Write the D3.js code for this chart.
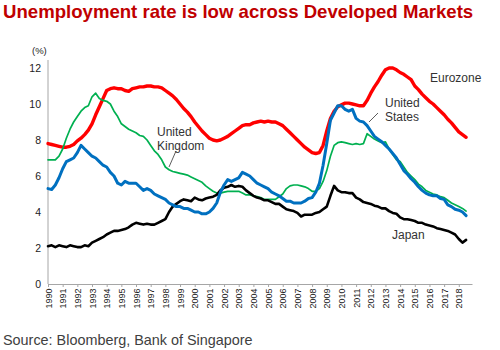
<!DOCTYPE html>
<html>
<head>
<meta charset="utf-8">
<script src="https://cdn.jsdelivr.net/npm/d3@7"></script>
<style>
  body { margin: 0; background: #fff; }
  svg { display: block; font-family: "Liberation Sans", Arial, sans-serif; }
  .axis path, .axis line { stroke: #a6a6a6; }
  .axis text { fill: #222; }
  .series { fill: none; stroke-linejoin: round; stroke-linecap: round; }
  .note { font-size: 12px; fill: #333; }
</style>
</head>
<body>
<div id="chart"></div>
<script>
// quarterly readings, first point 1990 Q1
const startYear = 1990;
const yearTicks = d3.range(1990, 2019);
const yTicks = [0, 2, 4, 6, 8, 10, 12];

const eurozone = [
  7.8, 7.75, 7.7, 7.65,   7.6, 7.6, 7.65, 7.75,   7.95, 8.1, 8.3, 8.55,
  8.9, 9.4, 9.85, 10.3,   10.75, 10.85, 10.9, 10.85,   10.85, 10.75, 10.7, 10.85,
  10.9, 10.95, 10.95, 11.0,   11.0, 10.95, 10.95, 10.9,   10.75, 10.6, 10.45, 10.25,
  10.0, 9.75, 9.55, 9.3,   9.0, 8.75, 8.5, 8.3,   8.1, 8.0, 7.95, 8.0,
  8.1, 8.2, 8.35, 8.5,   8.65, 8.8, 8.85, 8.85,   8.95, 9.0, 9.05, 9.0,
  9.05, 9.0, 9.0, 8.9,   8.8, 8.6, 8.4, 8.2,   8.0, 7.8, 7.6, 7.45,
  7.3, 7.25, 7.3, 7.7,   8.5, 9.2, 9.6, 9.85,   9.95, 10.05, 10.05, 10.0,
  9.95, 9.9, 9.9, 10.2,   10.6, 10.95, 11.25, 11.6,   11.9, 12.0, 12.0, 11.9,
  11.75, 11.65, 11.5, 11.35,   11.0, 10.8, 10.55, 10.35,   10.15, 10.0, 9.8, 9.6,
  9.4, 9.15, 8.95, 8.7,   8.45, 8.3, 8.15
];

const unitedStates = [
  5.3, 5.25, 5.5, 5.9,   6.4, 6.8, 6.9, 7.0,   7.3, 7.7, 7.5, 7.3,
  7.1, 7.0, 6.8, 6.6,   6.5, 6.2, 6.0, 5.6,   5.5, 5.7, 5.6, 5.6,
  5.6, 5.4, 5.2, 5.3,   5.2, 5.0, 4.9, 4.8,   4.7, 4.5, 4.4, 4.3,
  4.3, 4.2, 4.2, 4.1,   4.0, 4.0, 3.9, 3.9,   4.0, 4.2, 4.5, 5.1,
  5.5, 5.8, 5.7, 5.8,   5.9, 6.2, 6.1, 6.0,   5.8, 5.6, 5.5, 5.4,
  5.3, 5.1, 5.0, 4.9,   4.75, 4.6, 4.6, 4.5,   4.5, 4.5, 4.6, 4.75,
  4.8, 5.1, 5.6, 6.6,   7.8, 9.1, 9.5, 9.9,   9.9, 9.7, 9.6, 9.7,
  9.2, 9.05, 9.0, 8.8,   8.5, 8.2, 8.05, 7.9,   7.7, 7.5, 7.25, 7.0,
  6.65, 6.3, 6.1, 5.85,   5.65, 5.4, 5.2, 5.05,   4.95, 4.9, 4.9, 4.75,
  4.7, 4.4, 4.3, 4.15,   4.1, 4.0, 3.8
];

const unitedKingdom = [
  6.9, 6.9, 6.9, 7.1,   7.5, 8.1, 8.6, 9.0,   9.3, 9.6, 9.8, 9.9,
  10.4, 10.6, 10.3, 10.2,   10.15, 10.0, 9.6, 9.3,   8.9, 8.75, 8.6, 8.5,
  8.4, 8.25, 8.2, 8.0,   7.7, 7.4, 7.2, 6.9,   6.5, 6.35, 6.25, 6.2,
  6.15, 6.1, 6.05, 5.95,   5.85, 5.75, 5.65, 5.45,   5.3, 5.15, 5.05, 5.05,
  5.1, 5.15, 5.15, 5.15,   5.15, 5.05, 4.95, 4.95,   4.9, 4.85, 4.8, 4.7,
  4.7, 4.7, 4.7, 4.85,   5.0, 5.3, 5.45, 5.5,   5.5, 5.45, 5.4, 5.3,
  5.15, 5.15, 5.3, 5.7,   6.3, 7.1, 7.7, 7.85,   7.9, 7.85, 7.8, 7.75,
  7.8, 7.75, 7.8, 8.35,   8.2, 8.05, 7.95, 7.85,   7.9, 7.5, 7.2, 6.9,
  6.8, 6.5, 6.2, 6.0,   5.8, 5.55, 5.4, 5.2,   5.1, 5.0, 4.95, 4.85,
  4.8, 4.65, 4.5, 4.4,   4.3, 4.2, 4.05
];

const japan = [
  2.1, 2.15, 2.05, 2.15,   2.1, 2.05, 2.15, 2.1,   2.05, 2.05, 2.15, 2.1,
  2.3, 2.4, 2.5, 2.6,   2.75, 2.85, 2.95, 2.95,   3.0, 3.05, 3.15, 3.3,
  3.4, 3.35, 3.3, 3.35,   3.3, 3.3, 3.4, 3.5,   3.6, 4.0, 4.3, 4.45,
  4.6, 4.7, 4.65, 4.6,   4.8, 4.7, 4.65, 4.75,   4.8, 4.85, 4.95, 5.2,
  5.35, 5.4, 5.5, 5.4,   5.45, 5.4, 5.2, 5.05,   4.9, 4.8, 4.75, 4.65,
  4.65, 4.55, 4.45, 4.45,   4.3, 4.15, 4.1, 4.05,   3.95, 3.75, 3.85, 3.85,
  3.85, 3.95, 4.0, 4.15,   4.3, 4.9, 5.45, 5.2,   5.1, 5.1, 5.05, 5.05,
  4.8, 4.7, 4.55, 4.5,   4.45, 4.35, 4.3, 4.2,   4.2, 4.05, 3.95, 3.9,
  3.7, 3.6, 3.6, 3.55,   3.5, 3.4, 3.4, 3.3,   3.25, 3.2, 3.1, 3.05,
  3.0, 2.95, 2.85, 2.75,   2.5, 2.3, 2.45
];

const seriesList = [
  {name: "Eurozone", values: eurozone, color: "#ff0000", width: 3.4},
  {name: "United Kingdom", values: unitedKingdom, color: "#00b050", width: 1.7},
  {name: "Japan", values: japan, color: "#000000", width: 2.6},
  {name: "United States", values: unitedStates, color: "#0070c0", width: 3.0}
];

const width = 500, height = 350;

const svg = d3.select("#chart").append("svg")
  .attr("width", width)
  .attr("height", height);

const x = d3.scaleLinear().domain([1990, 2018.9]).range([48, 472]);
const y = d3.scaleLinear().domain([0, 12]).range([284, 68]);

// title
svg.append("text")
  .attr("x", 3)
  .attr("y", 18)
  .style("font-size", "18.6px")
  .style("font-weight", "bold")
  .style("fill", "#c00000")
  .text("Unemployment rate is low across Developed Markets");

svg.append("text")
  .attr("x", 32)
  .attr("y", 54)
  .style("font-size", "9.5px")
  .style("fill", "#222")
  .text("(%)");

// y axis
const yAxis = svg.append("g")
  .attr("class", "axis")
  .attr("transform", "translate(48,0)")
  .call(d3.axisLeft(y).tickValues(yTicks).tickSize(0).tickPadding(7).tickFormat(d3.format("d")));
yAxis.select(".domain").remove();
yAxis.selectAll("text").style("font-size", "10.5px");
yAxis.append("line")
  .attr("x1", 0).attr("x2", 0)
  .attr("y1", 60).attr("y2", 284)
  .attr("stroke", "#a6a6a6");

// x axis
const xAxis = svg.append("g")
  .attr("class", "axis")
  .attr("transform", "translate(0,284)")
  .call(d3.axisBottom(x).tickValues(yearTicks).tickSize(3).tickSizeOuter(0).tickFormat(d3.format("d")));
xAxis.selectAll("text")
  .attr("transform", "rotate(-90)")
  .attr("x", -4.5)
  .attr("y", 0)
  .attr("dy", "0.35em")
  .style("text-anchor", "end")
  .style("font-size", "9px");

// lines
const line = d3.line()
  .x(function (d, i) { return x(startYear + i / 4); })
  .y(function (d) { return y(d); });

svg.selectAll("path.series")
  .data(seriesList)
  .enter().append("path")
  .attr("class", "series")
  .attr("stroke", function (d) { return d.color; })
  .attr("stroke-width", function (d) { return d.width; })
  .attr("d", function (d) { return line(d.values); });

// annotations
function note(lines, px, py) {
  const t = svg.append("text").attr("class", "note");
  lines.forEach(function (s, i) {
    t.append("tspan").attr("x", px).attr("y", py + i * 14).text(s);
  });
}
note(["Eurozone"], 430, 82);
note(["United", "States"], 385, 107);
note(["United", "Kingdom"], 157, 136);
note(["Japan"], 392, 239);

svg.append("line")
  .attr("x1", 378).attr("y1", 113).attr("x2", 369).attr("y2", 122)
  .attr("stroke", "#333").attr("stroke-width", 0.8);
svg.append("line")
  .attr("x1", 176).attr("y1", 151).attr("x2", 169).attr("y2", 167)
  .attr("stroke", "#333").attr("stroke-width", 0.8);

// source
svg.append("text")
  .attr("x", 3)
  .attr("y", 345)
  .style("font-size", "14.4px")
  .style("fill", "#404040")
  .text("Source: Bloomberg, Bank of Singapore");
</script>
</body>
</html>
